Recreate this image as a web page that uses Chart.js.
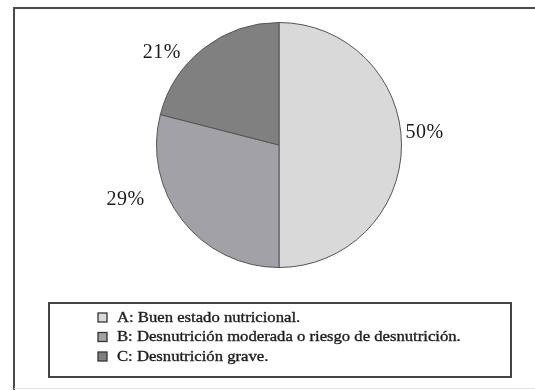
<!DOCTYPE html>
<html>
<head>
<meta charset="utf-8">
<script src="https://cdn.jsdelivr.net/npm/chart.js@4"></script>
<style>
  html, body { margin: 0; padding: 0; background: #fff; }
  #wrap { width: 535px; height: 390px; position: relative; }
</style>
</head>
<body>
<div id="wrap"><canvas id="graficoTorta"></canvas></div>
<script>
const categorias = [
  "A: Buen estado nutricional.",
  "B: Desnutrición moderada o riesgo de desnutrición.",
  "C: Desnutrición grave."
];
const porcentajes = [50, 29, 21];
const etiquetas = ["50%", "29%", "21%"];
const colores = ["#d9d9d9", "#a1a1a7", "#808080"];

// ajuste manual de las etiquetas de porcentaje (grados, distancia al centro)
const giroEtiqueta = [-4.7, 18, -14];
const distEtiqueta = [146, 163, 149];

const fuenteSerif = '"Liberation Serif", "Times New Roman", serif';

const marcoYEtiquetas = {
  id: 'marcoYEtiquetas',
  beforeDraw(chart) {
    const ctx = chart.ctx;
    ctx.save();
    ctx.fillStyle = '#fff';
    ctx.fillRect(0, 0, chart.width, chart.height);
    // marco exterior
    ctx.strokeStyle = '#4a4a4a';
    ctx.lineWidth = 2;
    ctx.beginPath();
    ctx.moveTo(14, 390);
    ctx.lineTo(14, 8);
    ctx.lineTo(535, 8);
    ctx.stroke();
    ctx.strokeStyle = '#e4e4e4';
    ctx.lineWidth = 1;
    ctx.beginPath();
    ctx.moveTo(14, 388.5);
    ctx.lineTo(535, 388.5);
    ctx.stroke();
    ctx.restore();
  },
  afterDraw(chart) {
    const ctx = chart.ctx;
    const meta = chart.getDatasetMeta(0);
    ctx.save();
    // porcentajes fuera de la torta
    ctx.font = '20px ' + fuenteSerif;
    ctx.letterSpacing = '0.5px';
    ctx.fillStyle = '#1a1a1a';
    ctx.textAlign = 'center';
    ctx.textBaseline = 'middle';
    meta.data.forEach((arc, i) => {
      const medio = (arc.startAngle + arc.endAngle) / 2 + giroEtiqueta[i] * Math.PI / 180;
      const x = arc.x + Math.cos(medio) * distEtiqueta[i];
      const y = arc.y + Math.sin(medio) * distEtiqueta[i];
      ctx.fillText(etiquetas[i], x, y);
    });

    // leyenda en recuadro
    ctx.letterSpacing = '0px';
    ctx.strokeStyle = '#444';
    ctx.lineWidth = 2;
    ctx.strokeRect(49, 303, 462, 74);
    ctx.font = '14px ' + fuenteSerif;
    ctx.textAlign = 'left';
    chart.data.labels.forEach((txt, i) => {
      const y = 318 + i * 19.5;
      ctx.fillStyle = colores[i];
      ctx.fillRect(98, y - 5, 9, 9);
      ctx.strokeStyle = '#333';
      ctx.lineWidth = 1.3;
      ctx.strokeRect(98, y - 5, 9, 9);
      // texto algo ensanchado, como en el original impreso
      ctx.save();
      ctx.translate(117, y);
      ctx.scale(1.19, 1);
      ctx.fillStyle = '#1e1e1e';
      ctx.strokeStyle = '#1e1e1e';
      ctx.lineWidth = 0.35;
      ctx.fillText(txt, 0, 0);
      ctx.strokeText(txt, 0, 0);
      ctx.restore();
    });
    ctx.restore();
  }
};

new Chart(document.querySelector('#graficoTorta'), {
  type: 'pie',
  data: {
    labels: categorias,
    datasets: [{
      data: porcentajes,
      backgroundColor: colores,
      borderColor: '#555',
      borderWidth: 1
    }]
  },
  options: {
    responsive: true,
    maintainAspectRatio: false,
    animation: false,
    layout: { padding: { top: 22, bottom: 122, left: 156, right: 133 } },
    plugins: {
      legend: { display: false },
      tooltip: { enabled: false }
    }
  },
  plugins: [marcoYEtiquetas]
});
</script>
</body>
</html>
